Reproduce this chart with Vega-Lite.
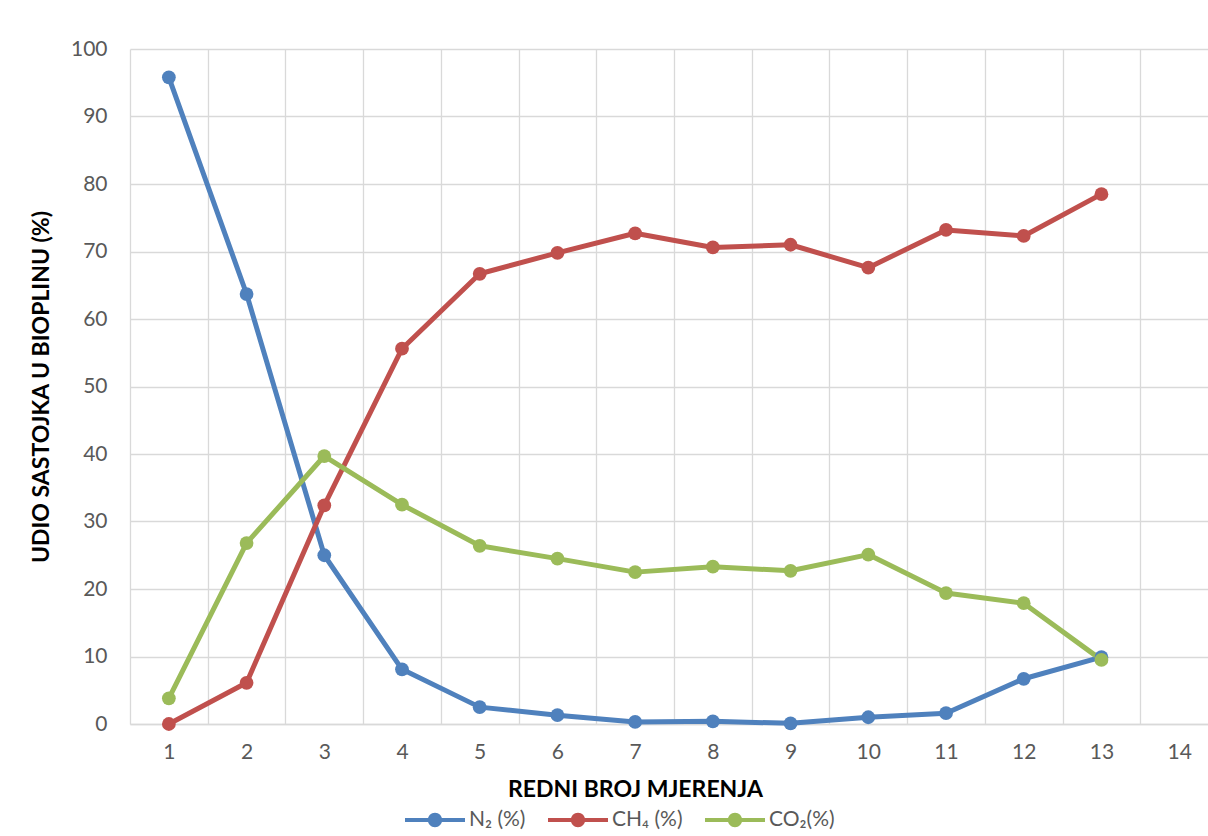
{
  "$schema": "https://vega.github.io/schema/vega-lite/v6.json",
  "width": 1088,
  "height": 675,
  "autosize": {"type": "none"},
  "padding": {"left": 130, "top": 49, "right": 0, "bottom": 112},
  "background": "#ffffff",
  "config": {
    "view": {"stroke": null},
    "font": "Lato",
    "axis": {
      "labelFont": "Lato",
      "labelFontSize": 21,
      "labelColor": "#595959",
      "titleFont": "Lato",
      "titleFontSize": 23,
      "titleFontWeight": "bold",
      "titleColor": "#000000",
      "gridColor": "#d9d9d9",
      "gridWidth": 1.3,
      "ticks": false,
      "tickSize": 0
    },
    "legend": {
      "labelFont": "Lato",
      "labelFontSize": 21,
      "labelColor": "#595959"
    }
  },
  "data": {
    "values": [
      {"n": 1, "g": "N₂ (%)", "v": 95.8},
      {"n": 2, "g": "N₂ (%)", "v": 63.7},
      {"n": 3, "g": "N₂ (%)", "v": 25.0},
      {"n": 4, "g": "N₂ (%)", "v": 8.1},
      {"n": 5, "g": "N₂ (%)", "v": 2.5},
      {"n": 6, "g": "N₂ (%)", "v": 1.3},
      {"n": 7, "g": "N₂ (%)", "v": 0.3},
      {"n": 8, "g": "N₂ (%)", "v": 0.4},
      {"n": 9, "g": "N₂ (%)", "v": 0.1},
      {"n": 10, "g": "N₂ (%)", "v": 1.0},
      {"n": 11, "g": "N₂ (%)", "v": 1.6},
      {"n": 12, "g": "N₂ (%)", "v": 6.7},
      {"n": 13, "g": "N₂ (%)", "v": 9.9},
      {"n": 1, "g": "CH₄ (%)", "v": 0.0},
      {"n": 2, "g": "CH₄ (%)", "v": 6.1},
      {"n": 3, "g": "CH₄ (%)", "v": 32.4},
      {"n": 4, "g": "CH₄ (%)", "v": 55.6},
      {"n": 5, "g": "CH₄ (%)", "v": 66.7},
      {"n": 6, "g": "CH₄ (%)", "v": 69.8},
      {"n": 7, "g": "CH₄ (%)", "v": 72.7},
      {"n": 8, "g": "CH₄ (%)", "v": 70.6},
      {"n": 9, "g": "CH₄ (%)", "v": 71.0},
      {"n": 10, "g": "CH₄ (%)", "v": 67.6},
      {"n": 11, "g": "CH₄ (%)", "v": 73.2},
      {"n": 12, "g": "CH₄ (%)", "v": 72.3},
      {"n": 13, "g": "CH₄ (%)", "v": 78.5},
      {"n": 1, "g": "CO₂(%)", "v": 3.8},
      {"n": 2, "g": "CO₂(%)", "v": 26.8},
      {"n": 3, "g": "CO₂(%)", "v": 39.7},
      {"n": 4, "g": "CO₂(%)", "v": 32.5},
      {"n": 5, "g": "CO₂(%)", "v": 26.4},
      {"n": 6, "g": "CO₂(%)", "v": 24.5},
      {"n": 7, "g": "CO₂(%)", "v": 22.5},
      {"n": 8, "g": "CO₂(%)", "v": 23.3},
      {"n": 9, "g": "CO₂(%)", "v": 22.7},
      {"n": 10, "g": "CO₂(%)", "v": 25.1},
      {"n": 11, "g": "CO₂(%)", "v": 19.4},
      {"n": 12, "g": "CO₂(%)", "v": 17.9},
      {"n": 13, "g": "CO₂(%)", "v": 9.5}
    ]
  },
  "encoding": {
    "x": {
      "field": "n",
      "type": "ordinal",
      "title": "REDNI BROJ MJERENJA",
      "scale": {"type": "band", "domain": [1,2,3,4,5,6,7,8,9,10,11,12,13,14], "paddingInner": 0, "paddingOuter": 0},
      "axis": {"tickBand": "extent", "grid": true, "labelAngle": 0, "labelPadding": 17, "domainColor": "#d9d9d9", "domainWidth": 1.3, "titlePadding": 16, "titleX": 505}
    },
    "y": {
      "field": "v",
      "type": "quantitative",
      "title": "UDIO SASTOJKA  U BIOPLINU (%)",
      "scale": {"domain": [0, 100], "nice": false},
      "axis": {"values": [0,10,20,30,40,50,60,70,80,90,100], "domain": false, "labelPadding": 23, "titlePadding": 17}
    },
    "color": {
      "field": "g",
      "type": "nominal",
      "title": null,
      "scale": {"domain": ["N₂ (%)", "CH₄ (%)", "CO₂(%)"], "range": ["#4f81bd", "#c0504d", "#9bbb59"]},
      "legend": {
        "orient": "none",
        "direction": "horizontal",
        "legendX": 275,
        "legendY": 741,
        "padding": 0,
        "symbolType": "M-1,-0.07H1V0.07H-1Z M0.24,0A0.24,0.24,0,1,1,-0.24,0A0.24,0.24,0,1,1,0.24,0Z",
        "symbolSize": 3600,
        "symbolStrokeWidth": 0,
        "symbolOpacity": 1,
        "labelOffset": 4,
        "columnPadding": 22
      }
    }
  },
  "layer": [
    {
      "mark": {"type": "line", "strokeWidth": 5, "strokeCap": "round", "strokeJoin": "round"}
    },
    {
      "mark": {"type": "point", "filled": true, "size": 190, "opacity": 1}
    }
  ]
}
